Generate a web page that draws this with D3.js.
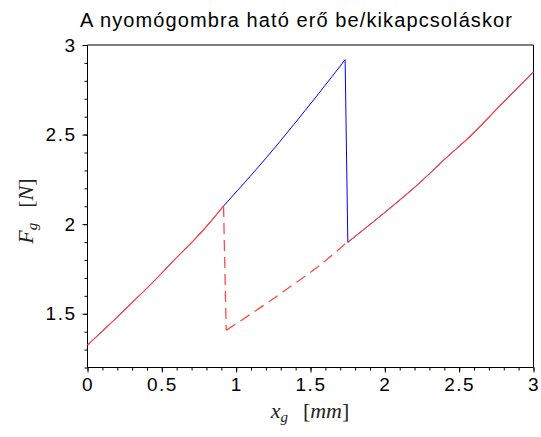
<!DOCTYPE html>
<html>
<head>
<meta charset="utf-8">
<script src="https://cdn.jsdelivr.net/npm/d3@7"></script>
<style>
  body { margin: 0; background: #fff; }
  svg { display: block; }
</style>
</head>
<body>
<svg id="chart" width="541" height="437"></svg>
<script>
// ---- data ----
const title = "A nyomógombra ható erő be/kikapcsoláskor";
const xTicks = [0, 0.5, 1, 1.5, 2, 2.5, 3];
const xTickLabels = ["0", "0.5", "1", "1.5", "2", "2.5", "3"];
const yTicks = [1.5, 2, 2.5, 3];
const yTickLabels = ["1.5", "2", "2.5", "3"];

// pressing (blue): up the stiff branch, snap down, continue
const pressX = [0, 0.1, 0.198, 0.3, 0.4, 0.5, 0.59, 0.702, 0.8, 0.915, 1.06, 1.206, 1.374, 1.554, 1.733, 1.751, 2.002, 2.227, 2.406, 2.585, 2.787, 3.0];
const pressF = [1.325, 1.403, 1.480, 1.562, 1.643, 1.727, 1.806, 1.899, 1.987, 2.101, 2.235, 2.374, 2.542, 2.728, 2.918, 1.899, 2.067, 2.225, 2.365, 2.499, 2.672, 2.850];

// releasing (red): solid shared start, dashed drop & lower branch, solid end
const releaseStartX = [0, 0.1, 0.198, 0.3, 0.4, 0.5, 0.59, 0.702, 0.8, 0.915];
const releaseStartF = [1.325, 1.403, 1.480, 1.562, 1.643, 1.727, 1.806, 1.899, 1.987, 2.101];
const releaseDashX = [0.915, 0.933, 1.15, 1.374, 1.554, 1.745];
const releaseDashF = [2.101, 1.408, 1.527, 1.657, 1.765, 1.899];
const releaseEndX = [1.751, 2.002, 2.227, 2.406, 2.585, 2.787, 3.0];
const releaseEndF = [1.899, 2.067, 2.225, 2.365, 2.499, 2.672, 2.850];

// ---- layout ----
const svg = d3.select("#chart");
const L = 87.5, R = 533.5, T = 45, B = 367.5;
const x = d3.scaleLinear().domain([0, 3]).range([L, R]);
const y = d3.scaleLinear().domain([1.2, 3]).range([B, T]);

const tickFont = "Liberation Sans, Arial, sans-serif";

// frame: top line, right line
svg.append("line").attr("x1", L).attr("x2", R).attr("y1", T).attr("y2", T)
  .attr("stroke", "#000").attr("stroke-width", 1);
svg.append("line").attr("x1", R).attr("x2", R).attr("y1", T).attr("y2", B)
  .attr("stroke", "#000").attr("stroke-width", 1);

// axes
const xMinor = d3.range(0, 31).map(i => i / 10);
const yMinor = d3.range(12, 31).map(i => i / 10);

const gx = svg.append("g").attr("transform", `translate(0,${B})`);
gx.call(d3.axisBottom(x).tickValues(xMinor).tickSize(3).tickFormat(""))
  .call(g => g.select(".domain").remove());
gx.append("g").call(d3.axisBottom(x).tickValues(xTicks).tickSize(5).tickPadding(5)
    .tickFormat((d, i) => xTickLabels[i]))
  .call(g => g.selectAll("text").attr("font-family", tickFont).attr("font-size", 19)
    .attr("letter-spacing", "1.5px").attr("fill", "#000"))
  .call(g => g.select(".domain").attr("d", `M${L},0H${R}`));

const gy = svg.append("g").attr("transform", `translate(${L},0)`);
gy.call(d3.axisLeft(y).tickValues(yMinor).tickSize(3).tickFormat(""))
  .call(g => g.select(".domain").remove());
gy.append("g").call(d3.axisLeft(y).tickValues(yTicks).tickSize(5).tickPadding(6)
    .tickFormat((d, i) => yTickLabels[i]))
  .call(g => g.selectAll("text").attr("font-family", tickFont).attr("font-size", 19)
    .attr("letter-spacing", "1.5px").attr("fill", "#000"))
  .call(g => g.select(".domain").attr("d", `M0,${T}V${B}`));

// lines: split at near-vertical jumps, smooth the rest
const zip = (a, b) => a.map((v, i) => [v, b[i]]);
function segments(pts) {
  const out = [];
  let cur = [pts[0]];
  for (let i = 1; i < pts.length; i++) {
    const jump = pts[i][0] - pts[i - 1][0] < 0.03;
    if (jump) {
      out.push({ pts: cur, smooth: true });
      out.push({ pts: [pts[i - 1], pts[i]], smooth: false });
      cur = [pts[i]];
    } else cur.push(pts[i]);
  }
  out.push({ pts: cur, smooth: true });
  return out.filter(s => s.pts.length > 1);
}
const smoothLine = d3.line().x(d => x(d[0])).y(d => y(d[1])).curve(d3.curveMonotoneX);
const straightLine = d3.line().x(d => x(d[0])).y(d => y(d[1]));
function drawSeries(pts, attrs) {
  segments(pts).forEach(s => {
    const p = svg.append("path").attr("d", (s.smooth ? smoothLine : straightLine)(s.pts))
      .attr("fill", "none");
    Object.entries(attrs).forEach(([k, v]) => p.attr(k, v));
  });
}

drawSeries(zip(pressX, pressF), { stroke: "#0000ff", "stroke-width": 1 });
drawSeries(zip(releaseStartX, releaseStartF), { stroke: "#ff4a4a", "stroke-width": 1.2 });
drawSeries(zip(releaseDashX, releaseDashF), { stroke: "#ff4a4a", "stroke-width": 1.3, "stroke-dasharray": "11,6" });
drawSeries(zip(releaseEndX, releaseEndF), { stroke: "#ff4a4a", "stroke-width": 1.2 });

// title
svg.append("text").attr("x", 296.5).attr("y", 27).attr("text-anchor", "middle")
  .attr("font-family", tickFont).attr("font-size", 20).attr("letter-spacing", "1.1px")
  .attr("fill", "#000").text(title);

// axis labels (math style)
const serif = "Liberation Serif, Times New Roman, serif";
const xl = svg.append("text").attr("x", 310).attr("y", 418).attr("text-anchor", "middle")
  .attr("font-family", serif).attr("font-size", 22).attr("fill", "#222");
xl.append("tspan").attr("font-style", "italic").text("x");
xl.append("tspan").attr("font-style", "italic").attr("font-size", 15).attr("dy", 4).text("g");
xl.append("tspan").attr("dy", -4).attr("dx", 15).text("[");
xl.append("tspan").attr("font-style", "italic").text("mm");
xl.append("tspan").text("]");

const yl = svg.append("text").attr("transform", "translate(33,211) rotate(-90)")
  .attr("text-anchor", "middle")
  .attr("font-family", serif).attr("font-size", 22).attr("fill", "#222");
yl.append("tspan").attr("font-style", "italic").text("F");
yl.append("tspan").attr("font-style", "italic").attr("font-size", 15).attr("dy", 4).text("g");
yl.append("tspan").attr("dy", -4).attr("dx", 15).text("[");
yl.append("tspan").attr("font-style", "italic").text("N");
yl.append("tspan").text("]");
</script>
</body>
</html>
